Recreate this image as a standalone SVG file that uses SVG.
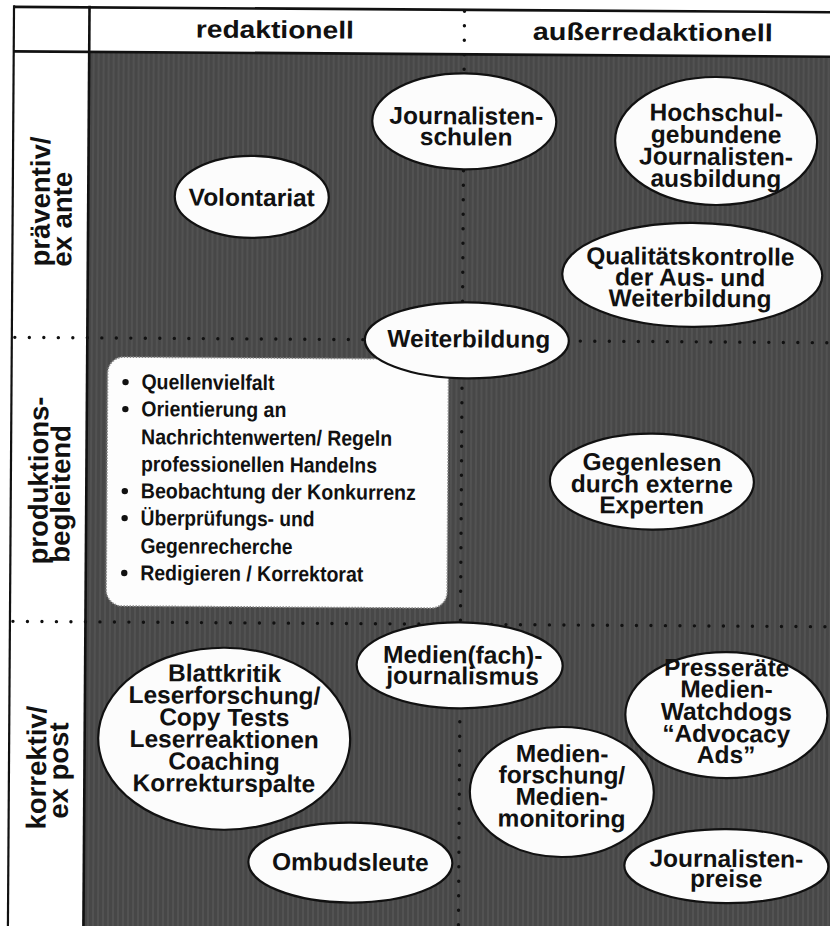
<svg xmlns="http://www.w3.org/2000/svg" width="830" height="926" viewBox="0 0 830 926">
  <defs>
    <pattern id="grain" width="5" height="12" patternUnits="userSpaceOnUse">
      <rect width="5" height="12" fill="#474747"/>
      <rect x="0" width="2" height="12" fill="#525252"/>
    </pattern>
    <style>
      .frame { stroke: #111; fill: none; }
      .dots { stroke: #111; stroke-width: 3.4; stroke-linecap: round; stroke-dasharray: 0 14.5; fill: none; }
      .node ellipse { fill: #fcfcfc; stroke: #111; stroke-width: 2.2; }
      text { font-family: "Liberation Sans", Arial, sans-serif; font-weight: 700; fill: #111; }
      .lbl { font-size: 24.5px; text-anchor: middle; }
      .head { font-size: 24.5px; text-anchor: middle; }
      .side { font-size: 27.5px; text-anchor: start; }
      .bul { font-size: 21.5px; text-anchor: start; }
      .box { fill: #fdfdfd; stroke: #8a8a8a; stroke-width: 1.6; stroke-dasharray: 1.5 1.5; }
    </style>
  </defs>

  <rect width="830" height="926" fill="#ffffff"/>

  <g transform="rotate(0.38 415 463)">
    <!-- matrix background -->
    <rect x="86.5" y="54" width="770" height="900" fill="url(#grain)"/>

    <!-- frame -->
    <g id="frame">
      <line class="frame" x1="11" y1="9.5" x2="860" y2="9.5" stroke-width="2.6"/>
      <line class="frame" x1="11" y1="54" x2="860" y2="54" stroke-width="2.6"/>
      <line class="frame" x1="11" y1="8" x2="11" y2="950" stroke-width="2.2"/>
      <line class="frame" x1="86.5" y1="8" x2="86.5" y2="950" stroke-width="2.6"/>
    </g>

    <!-- column heads -->
    <g id="head-redaktionell">
      <text class="head" x="272" y="39" textLength="158" lengthAdjust="spacingAndGlyphs">redaktionell</text>
    </g>
    <g id="head-ausserredaktionell">
      <text class="head" x="650" y="39" textLength="240" lengthAdjust="spacingAndGlyphs">außerredaktionell</text>
    </g>

    <!-- row heads (rotated) -->
    <g id="row-praeventiv">
      <text class="side" transform="translate(48 269) rotate(-90)">präventiv/</text>
      <text class="side" transform="translate(70 269) rotate(-90)">ex ante</text>
    </g>
    <g id="row-produktion">
      <text class="side" transform="translate(48 567) rotate(-90)">produktions-</text>
      <text class="side" transform="translate(70 565) rotate(-90)">begleitend</text>
    </g>
    <g id="row-korrektiv">
      <text class="side" transform="translate(48 832) rotate(-90)">korrektiv/</text>
      <text class="side" transform="translate(70 821) rotate(-90)">ex post</text>
    </g>

    <!-- dotted grid dividers -->
    <g id="connectors">
      <line class="dots" x1="461.5" y1="11" x2="461.5" y2="940"/>
      <line class="dots" x1="14" y1="340" x2="850" y2="340"/>
      <line class="dots" x1="14" y1="624" x2="850" y2="624"/>
    </g>

    <!-- production checklist -->
    <g id="checklist">
      <rect class="box" x="107" y="359" width="341" height="249" rx="16"/>
      <circle cx="125" cy="384" r="3.2" fill="#111"/>
      <circle cx="125" cy="411" r="3.2" fill="#111"/>
      <circle cx="125" cy="493" r="3.2" fill="#111"/>
      <circle cx="125" cy="520" r="3.2" fill="#111"/>
      <circle cx="125" cy="575" r="3.2" fill="#111"/>
      <text class="bul" x="141" y="391" textLength="133" lengthAdjust="spacingAndGlyphs">Quellenvielfalt</text>
      <text class="bul" x="141" y="418" textLength="145" lengthAdjust="spacingAndGlyphs">Orientierung an</text>
      <text class="bul" x="141" y="446" textLength="251" lengthAdjust="spacingAndGlyphs">Nachrichtenwerten/ Regeln</text>
      <text class="bul" x="141" y="473" textLength="236" lengthAdjust="spacingAndGlyphs">professionellen Handelns</text>
      <text class="bul" x="141" y="500" textLength="275" lengthAdjust="spacingAndGlyphs">Beobachtung der Konkurrenz</text>
      <text class="bul" x="141" y="527" textLength="174" lengthAdjust="spacingAndGlyphs">Überprüfungs- und</text>
      <text class="bul" x="141" y="555" textLength="152" lengthAdjust="spacingAndGlyphs">Gegenrecherche</text>
      <text class="bul" x="141" y="582" textLength="223" lengthAdjust="spacingAndGlyphs">Redigieren / Korrektorat</text>
    </g>

    <!-- measures -->
    <g id="volontariat" class="node">
      <ellipse cx="250" cy="198" rx="77" ry="41"/>
      <text class="lbl" x="250" y="207" font-size="25">Volontariat</text>
    </g>
    <g id="journalistenschulen" class="node">
      <ellipse cx="462" cy="121" rx="92" ry="48"/>
      <text class="lbl" x="464" y="124">Journalisten-</text>
      <text class="lbl" x="464" y="145">schulen</text>
    </g>
    <g id="hochschulausbildung" class="node">
      <ellipse cx="714" cy="139" rx="101" ry="64"/>
      <text class="lbl" x="714" y="119">Hochschul-</text>
      <text class="lbl" x="714" y="141">gebundene</text>
      <text class="lbl" x="714" y="163">Journalisten-</text>
      <text class="lbl" x="714" y="185">ausbildung</text>
    </g>
    <g id="qualitaetskontrolle" class="node">
      <ellipse cx="691" cy="273" rx="130" ry="52"/>
      <text class="lbl" x="689" y="263">Qualitätskontrolle</text>
      <text class="lbl" x="689" y="284">der Aus- und</text>
      <text class="lbl" x="689" y="305">Weiterbildung</text>
    </g>
    <g id="weiterbildung" class="node">
      <ellipse cx="466" cy="340" rx="102" ry="38"/>
      <text class="lbl" x="468" y="347" font-size="23.5">Weiterbildung</text>
    </g>
    <g id="gegenlesen" class="node">
      <ellipse cx="652" cy="480" rx="102" ry="48"/>
      <text class="lbl" x="652" y="469">Gegenlesen</text>
      <text class="lbl" x="652" y="491">durch externe</text>
      <text class="lbl" x="652" y="512">Experten</text>
    </g>
    <g id="medienjournalismus" class="node">
      <ellipse cx="461" cy="665" rx="103" ry="43"/>
      <text class="lbl" x="464" y="663">Medien(fach)-</text>
      <text class="lbl" x="464" y="684">journalismus</text>
    </g>
    <g id="blattkritik" class="node">
      <ellipse cx="226" cy="740" rx="126" ry="91"/>
      <text class="lbl" x="226" y="683">Blattkritik</text>
      <text class="lbl" x="226" y="705">Leserforschung/</text>
      <text class="lbl" x="226" y="727">Copy Tests</text>
      <text class="lbl" x="226" y="749">Leserreaktionen</text>
      <text class="lbl" x="226" y="771">Coaching</text>
      <text class="lbl" x="226" y="793">Korrekturspalte</text>
    </g>
    <g id="ombudsleute" class="node">
      <ellipse cx="353" cy="863" rx="102" ry="40"/>
      <text class="lbl" x="353" y="871">Ombudsleute</text>
    </g>
    <g id="medienforschung" class="node">
      <ellipse cx="564" cy="791" rx="92" ry="65"/>
      <text class="lbl" x="564" y="761">Medien-</text>
      <text class="lbl" x="564" y="782.5">forschung/</text>
      <text class="lbl" x="564" y="804">Medien-</text>
      <text class="lbl" x="564" y="826">monitoring</text>
    </g>
    <g id="presseraete" class="node">
      <ellipse cx="728" cy="713" rx="101" ry="63"/>
      <text class="lbl" x="728" y="674">Presseräte</text>
      <text class="lbl" x="728" y="695.5">Medien-</text>
      <text class="lbl" x="728" y="718">Watchdogs</text>
      <text class="lbl" x="728" y="740">“Advocacy</text>
      <text class="lbl" x="728" y="761">Ads”</text>
    </g>
    <g id="journalistenpreise" class="node">
      <ellipse cx="729" cy="864" rx="102" ry="37"/>
      <text class="lbl" x="729" y="865">Journalisten-</text>
      <text class="lbl" x="729" y="885">preise</text>
    </g>
  </g>
</svg>
